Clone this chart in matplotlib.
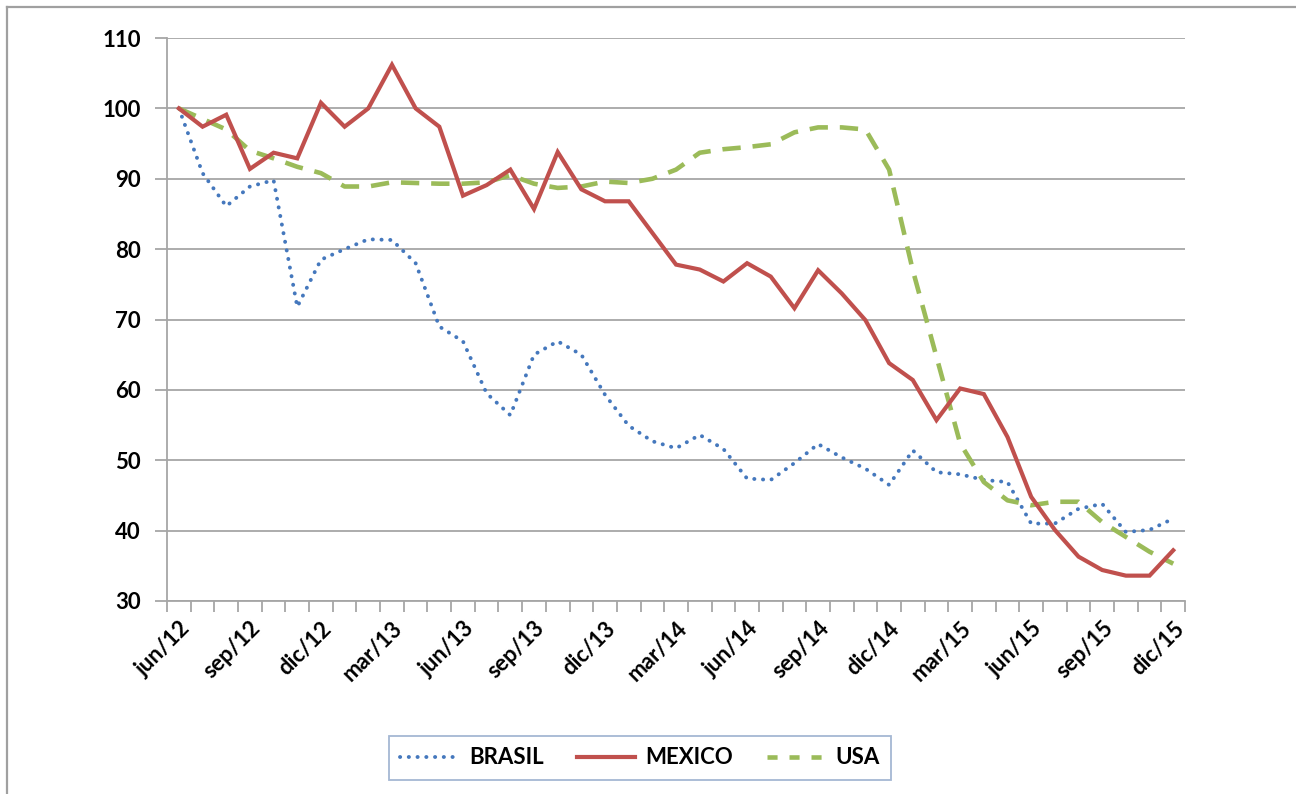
import matplotlib
matplotlib.use("Agg")
import matplotlib.pyplot as plt
from matplotlib.lines import Line2D

plt.rcParams['font.family'] = ['Lato', 'DejaVu Sans']

meses = ['ene', 'feb', 'mar', 'abr', 'may', 'jun', 'jul', 'ago', 'sep', 'oct', 'nov', 'dic']

# jun/12 .. dic/15, monthly
categorias = []
for anio in range(12, 16):
    for m in meses:
        categorias.append(m + '/' + str(anio))
categorias = categorias[5:]

brasil = [100, 90.8, 86.1, 88.9, 89.8, 71.8, 78.5, 80.0, 81.4, 81.3,
          78.0, 69.0, 66.9, 59.5, 56.4, 65.0, 66.9, 65.0, 59.3, 54.9,
          52.7, 51.7, 53.6, 51.6, 47.4, 47.2, 49.6, 52.3, 50.4, 48.8,
          46.5, 51.4, 48.3, 48.0, 47.2, 46.9, 41.0, 41.0, 43.1, 43.8,
          39.8, 40.1, 41.7]
mexico = [100, 97.4, 99.1, 91.4, 93.7, 92.9, 100.8, 97.4, 100, 106.2,
          100, 97.4, 87.6, 89.1, 91.3, 85.7, 93.8, 88.5, 86.8, 86.8,
          82.3, 77.8, 77.1, 75.4, 78.0, 76.1, 71.6, 77.0, 73.7, 69.9,
          63.8, 61.4, 55.7, 60.2, 59.4, 53.3, 44.8, 40.1, 36.3, 34.4,
          33.6, 33.6, 37.2]
usa = [100, 98.5, 97, 94, 92.9, 91.7, 90.8, 88.9, 88.9, 89.5,
       89.4, 89.3, 89.3, 89.5, 90.5, 89.3, 88.7, 88.9, 89.6, 89.4,
       90, 91.3, 93.7, 94.2, 94.5, 94.9, 96.6, 97.3, 97.3, 97.0,
       91.3, 77.0, 64.7, 52.4, 46.9, 44.3, 43.6, 44.1, 44.1, 41.2,
       39.1, 37.0, 35.3]

azul = '#4578bd'
rojo = '#c0504d'
verde = '#9bbb59'
gris = '#a6a6a6'

fig = plt.figure(figsize=(12.96, 7.94), dpi=100)
ax = fig.add_axes([0.1289, 0.2431, 0.7855, 0.709])

x = list(range(len(categorias)))
ax.plot(x, brasil, color=azul, lw=2.8, linestyle=(0, (0.05, 2.2)),
        dash_capstyle='round', label='BRASIL', zorder=3)
ax.plot(x, mexico, color=rojo, lw=3, label='MEXICO', zorder=4,
        solid_joinstyle='miter')
ax.plot(x, usa, color=verde, lw=3.3, linestyle=(0, (4.0, 2.6)),
        label='USA', zorder=3)

ax.set_xlim(-0.5, len(categorias) - 0.5)
ax.set_ylim(30, 110)
ax.set_yticks(range(30, 111, 10))
ax.yaxis.grid(True, color=gris, lw=1.3)
ax.set_axisbelow(True)

ax.set_xticks(x[::3])
ax.set_xticklabels(categorias[::3], rotation=45, ha='right',
                   rotation_mode='anchor', fontsize=16, fontweight='bold')
ax.set_xticks([i - 0.5 for i in range(len(categorias) + 1)], minor=True)
ax.tick_params(axis='x', which='major', length=0, pad=12)
ax.tick_params(axis='x', which='minor', length=8, color=gris, width=1.3)
ax.tick_params(axis='y', length=9, color=gris, width=1.3, pad=10)
for t in ax.get_yticklabels():
    t.set_fontsize(16)
    t.set_fontweight('bold')

for s in ['top', 'right']:
    ax.spines[s].set_visible(False)
for s in ['left', 'bottom']:
    ax.spines[s].set_color(gris)
    ax.spines[s].set_linewidth(1.3)

handles = [
    Line2D([], [], color=azul, lw=2.8, linestyle=(0, (0.05, 2.2)), dash_capstyle='round'),
    Line2D([], [], color=rojo, lw=3),
    Line2D([], [], color=verde, lw=3.3, linestyle=(0, (2.2, 2.6))),
]
leg = fig.legend(handles, ['BRASIL', 'MEXICO', 'USA'], loc='center',
                 bbox_to_anchor=(640 / 1296, 1 - 758 / 794), ncol=3,
                 frameon=True, fancybox=False, handlelength=2.6,
                 columnspacing=1.5, handletextpad=0.5,
                 prop={'weight': 'bold', 'size': 16}, borderpad=0.5)
leg.get_frame().set_edgecolor('#8ea6c8')
leg.get_frame().set_linewidth(1.3)

# outer chart border (cropped on right and bottom)
fig.add_artist(Line2D([7 / 1296, 7 / 1296], [0, 1 - 7 / 794],
                      transform=fig.transFigure, color='#a0a0a0', lw=1.6))
fig.add_artist(Line2D([7 / 1296, 1], [1 - 7 / 794, 1 - 7 / 794],
                      transform=fig.transFigure, color='#a0a0a0', lw=1.6))

fig.savefig('out.png', dpi=100)
